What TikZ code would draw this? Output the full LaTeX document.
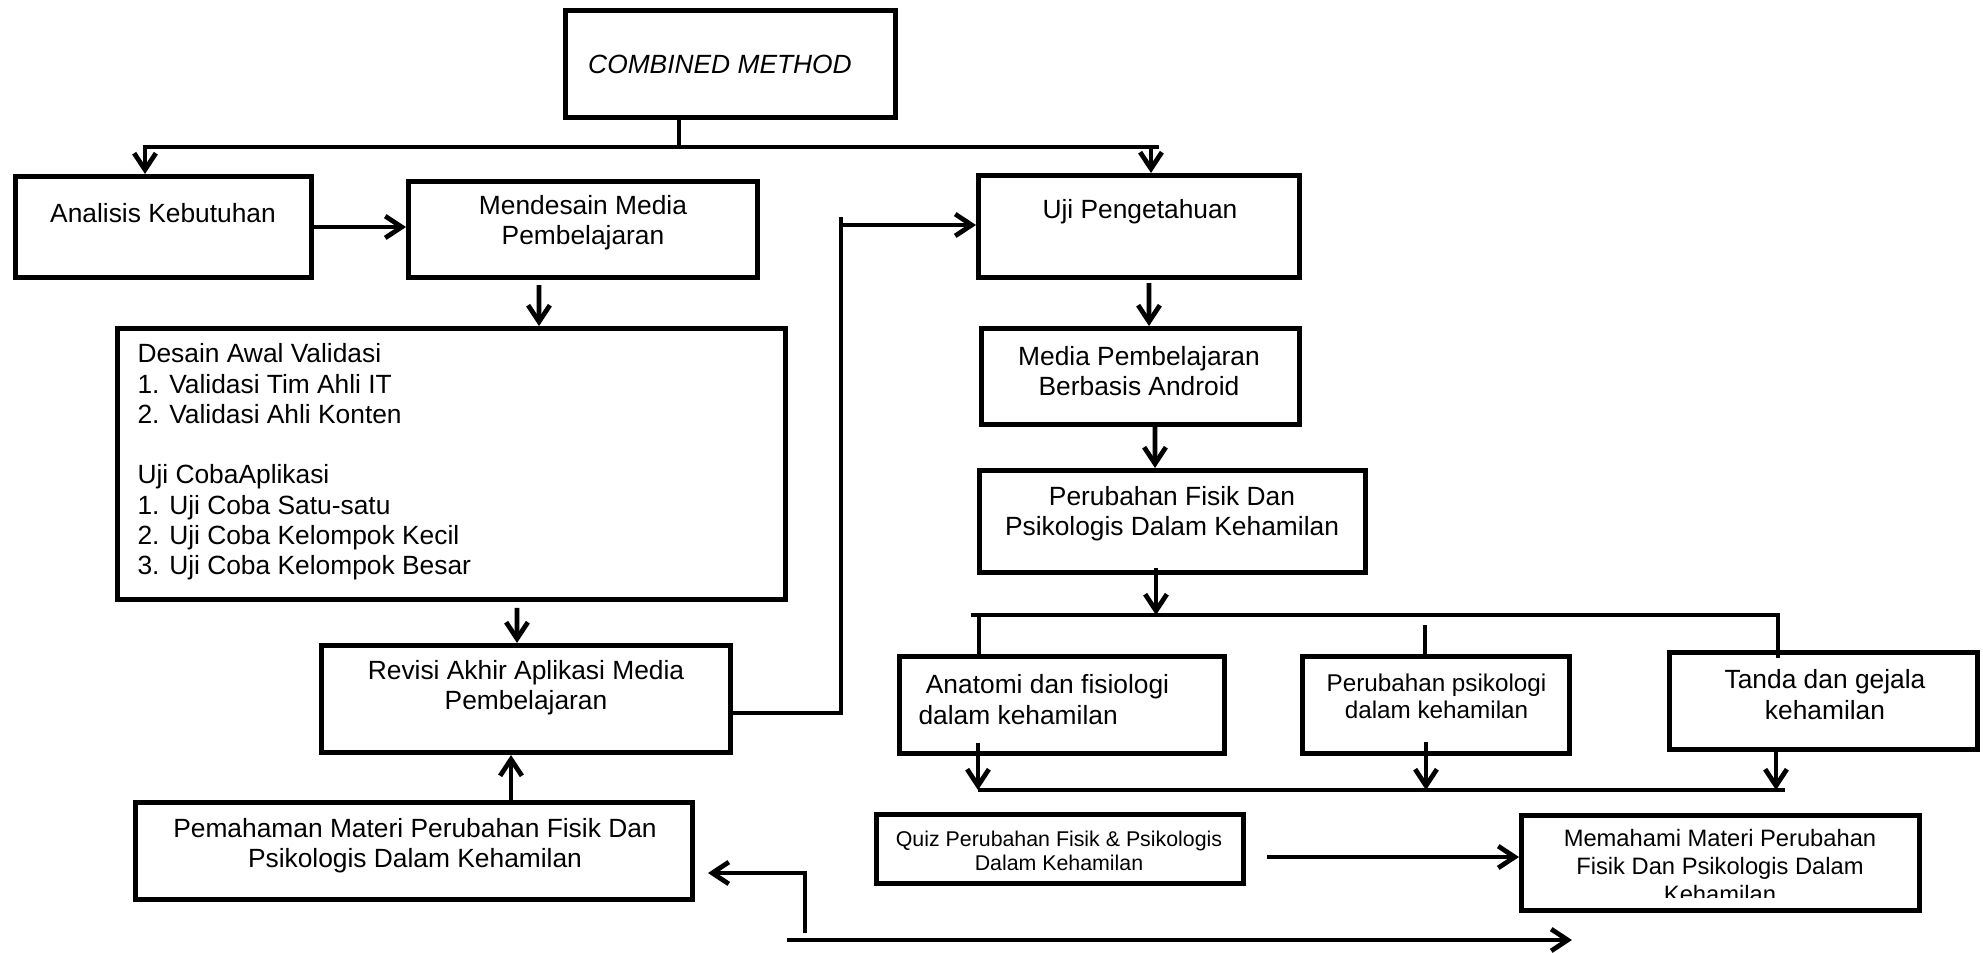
\documentclass[tikz,border=0pt]{standalone}
\usepackage{fontspec}
\setmainfont{Liberation Sans}
\usetikzlibrary{positioning, arrows.meta, calc}

\begin{document}
\begin{tikzpicture}[
        x=0.013333cm, y=-0.013333cm,
        box/.style={draw, rectangle, line width=1.9pt, inner sep=0pt},
        txt/.style={align=center, inner sep=0pt, font=\fontsize{10}{11.5}\selectfont},
        line/.style={line width=1.8pt},
        arrow/.style={-{Straight Barb[length=2.2mm, width=2.9mm]}, line width=1.8pt}
    ]
    \useasboundingbox (0,0) rectangle (1983,952);

    % boxes
    \node[box, minimum width=4.4cm, minimum height=1.427cm] (Combined) at (730.5,64) {};
    \node[box, minimum width=3.947cm, minimum height=1.347cm] (Analisis) at (163.5,227) {};
    \node[box, minimum width=4.653cm, minimum height=1.28cm] (Mendesain) at (583,229.5) {};
    \node[box, minimum width=4.28cm, minimum height=1.36cm] (UjiPeng) at (1139,226.5) {};
    \node[box, minimum width=8.907cm, minimum height=3.613cm] (Desain) at (451.5,464) {};
    \node[box, minimum width=5.453cm, minimum height=1.427cm] (Revisi) at (526,699) {};
    \node[box, minimum width=7.427cm, minimum height=1.293cm] (Pemahaman) at (414,851) {};
    \node[box, minimum width=4.24cm, minimum height=1.28cm] (MediaAndroid) at (1140.5,376.5) {};
    \node[box, minimum width=5.147cm, minimum height=1.36cm] (Perubahan) at (1172.5,521.5) {};
    \node[box, minimum width=4.333cm, minimum height=1.293cm] (Anatomi) at (1062,705) {};
    \node[box, minimum width=3.56cm, minimum height=1.293cm] (Psikologi) at (1436,705) {};
    \node[box, minimum width=4.107cm, minimum height=1.293cm] (Tanda) at (1823.5,701) {};
    \node[box, minimum width=4.893cm, minimum height=0.92cm] (Quiz) at (1060,849) {};
    \node[box, minimum width=5.307cm, minimum height=1.267cm] (Memahami) at (1720.5,863) {};

    % texts
    \node[txt, font=\fontsize{10}{11.5}\selectfont\itshape] (CombinedTxt) at (720,64) {COMBINED METHOD};
    \node[txt] (AnalisisTxt) at (163,213) {Analisis Kebutuhan};
    \node[txt] (MendesainTxt) at (583,223) {Mendesain Media\\Pembelajaran};
    \node[txt] (UjiPengTxt) at (1140,212) {Uji Pengetahuan};
    \node[txt, align=left, anchor=west] (DesainTxt) at (137,462) {Desain Awal Validasi\\1. Validasi Tim Ahli IT\\2. Validasi Ahli Konten\\[11.5pt]Uji CobaAplikasi\\1. Uji Coba Satu-satu\\2. Uji Coba Kelompok Kecil\\3. Uji Coba Kelompok Besar};
    \node[txt] (RevisiTxt) at (526,688) {Revisi Akhir Aplikasi Media\\Pembelajaran};
    \node[txt] (PemahamanTxt) at (415,845.5) {Pemahaman Materi Perubahan Fisik Dan\\Psikologis Dalam Kehamilan};
    \node[txt] (MediaAndroidTxt) at (1139,371) {Media Pembelajaran\\Berbasis Android};
    \node[txt] (PerubahanTxt) at (1172,513.5) {Perubahan Fisik Dan\\Psikologis Dalam Kehamilan};
    \node[txt, align=left, anchor=west] (AnatomiTxt) at (918,699.5) {\hspace*{0.28em}Anatomi dan fisiologi\\dalam kehamilan};
    \node[txt, font=\fontsize{9.2}{10.2}\selectfont] (PsikologiTxt) at (1436.5,696.5) {Perubahan psikologi\\dalam kehamilan};
    \node[txt] (TandaTxt) at (1825,694.5) {Tanda dan gejala\\kehamilan};
    \node[txt, font=\fontsize{8.1}{9.1}\selectfont] (QuizTxt) at (1059,851) {Quiz Perubahan Fisik \& Psikologis\\Dalam Kehamilan};
    \begin{scope}
        \clip (1500,800) rectangle (1940,897);
        \node[txt, font=\fontsize{9}{10.6}\selectfont] (MemahamiTxt) at (1720,866) {Memahami Materi Perubahan\\Fisik Dan Psikologis Dalam\\Kehamilan};
    \end{scope}

    % free ends and bends
    \coordinate (split) at (679,147);
    \coordinate (splitL) at (145,147);
    \coordinate (splitR) at (1151,147);
    \coordinate (bend) at (841,225);
    \coordinate (barL) at (971,615);
    \coordinate (barM) at (1156,615);
    \coordinate (barR) at (1778,615);
    \coordinate (topA) at (979,615);
    \coordinate (topB) at (1425,625);
    \coordinate (lowA) at (978,790);
    \coordinate (lowB) at (1426,790);
    \coordinate (lowC) at (1776,790);
    \coordinate (lowR) at (1785,790);
    \coordinate (longL) at (787,940);
    \coordinate (longR) at (1572,940);
    \coordinate (fb) at (805,933);

    % connectors
    \draw[line] (Combined.south -| split) -- (split);
    \draw[arrow] (split) -| (Analisis.north -| splitL);
    \draw[arrow] (split) -| (UjiPeng.north -| splitR);
    \draw[line] (splitR) -- ++(8,0);
    \draw[arrow] (Analisis.east) -- (Analisis.east -| Mendesain.west);
    \draw[arrow] ($(Mendesain.south)+(-44,5)$) -- ($(Desain.north)+(87.5,0)$);
    \draw[arrow] ($(Desain.south)+(65.5,6)$) -- ($(Revisi.north)+(-9,0)$);
    \draw[arrow] ($(Pemahaman.north)+(97,0)$) -- ($(Revisi.south)+(-15,0)$);
    \draw[arrow] ($(Revisi.east)+(0,14)$) -| (bend) -- (bend -| UjiPeng.west);
    \draw[line] (bend) -- ++(0,-8);
    \draw[arrow] ($(UjiPeng.south)+(10,3)$) -- ($(MediaAndroid.north)+(8.5,0)$);
    \draw[arrow] ($(MediaAndroid.south)+(14.5,0)$) -- ($(Perubahan.north)+(-17.5,0)$);
    \draw[arrow] ($(Perubahan.south)+(-16.5,-7)$) -- (barM);
    \draw[line] (barL) -- (barR) -- ($(barR |- Tanda.north)+(0,8)$);
    \draw[line] (topA) -- (topA |- Anatomi.north);
    \draw[line] (topB) -- ($(topB |- Psikologi.north)+(0,4)$);
    \draw[arrow] ($(lowA |- Anatomi.south)+(0,-13)$) -- (lowA);
    \draw[arrow] ($(lowB |- Psikologi.south)+(0,-14)$) -- (lowB);
    \draw[arrow] ($(lowC |- Tanda.south)+(0,-5)$) -- (lowC);
    \draw[line] (lowA) -- (lowR);
    \draw[arrow] ($(Quiz.east)+(21,8)$) -- ($(Memahami.west)+(0,-6)$);
    \draw[arrow] (longL) -- (longR);
    \draw[arrow] (fb) |- ($(Pemahaman.east)+(13,22)$);

\end{tikzpicture}
\end{document}
